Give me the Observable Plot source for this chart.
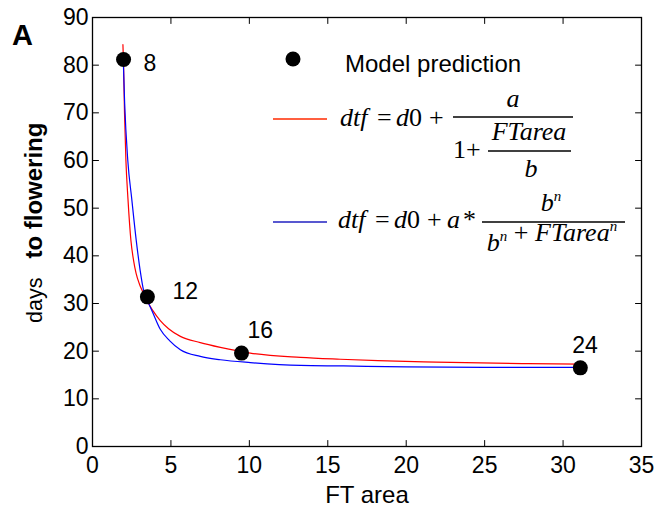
<!DOCTYPE html>
<html>
<head>
<meta charset="utf-8">
<script src="https://cdn.jsdelivr.net/npm/d3@7"></script>
<script src="https://cdn.jsdelivr.net/npm/@observablehq/plot@0.6"></script>
<style>
  html, body { margin: 0; padding: 0; background: #fff; }
  #chart { width: 662px; height: 510px; }
</style>
</head>
<body>
<div id="chart"></div>
<script>
// ---- data ----
const xTicks = [0, 5, 10, 15, 20, 25, 30, 35];
const yTicks = [0, 10, 20, 30, 40, 50, 60, 70, 80, 90];

const pointFT = [1.98, 3.5, 9.5, 31.1];
const pointDays = [81.2, 31.4, 19.6, 16.5];
const pointLabels = ["8", "12", "16", "24"];

const redFT   = [1.94, 1.98, 2.04, 2.13, 2.26, 2.45, 2.62, 2.78, 3.0, 3.2, 3.5, 3.85, 4.32, 4.85, 5.6, 6.87, 8.15, 10.06, 13.25, 15.8, 18.2, 21.9, 27.4, 31.1];
const redDays = [84.3, 80.0, 70.0, 60.0, 52.0, 43.2, 39.0, 36.3, 34.0, 32.5, 30.4, 28.5, 26.4, 24.7, 23.1, 21.8, 20.8, 19.6, 18.7, 18.3, 18.0, 17.7, 17.4, 17.3];

const blueFT   = [1.96, 2.05, 2.25, 2.5, 2.79, 3.04, 3.26, 3.5, 3.79, 4.32, 4.91, 5.6, 6.87, 8.15, 10.06, 13.25, 16.0, 20.0, 25.0, 31.1];
const blueDays = [81.3, 72.0, 60.0, 52.0, 43.2, 36.9, 32.7, 30.6, 28.5, 24.6, 22.2, 20.3, 18.9, 18.2, 17.6, 17.0, 16.9, 16.7, 16.6, 16.6];

const xLabel = "FT area";
const yLabelNormal = "days";
const yLabelBold = "to flowering";
const panelLabel = "A";
const legendLabel = "Model prediction";

// ---- tables built from the arrays ----
const points = pointFT.map((x, i) => ({x, y: pointDays[i], label: pointLabels[i]}));
const red = redFT.map((x, i) => ({x, y: redDays[i]}));
const blue = blueFT.map((x, i) => ({x, y: blueDays[i]}));

// label offsets (styling, pixels)
const labelOffsets = [[20, 4], [25, -5], [6, -22], [-8, -22]];

const tickShape = {draw(ctx, l) { ctx.moveTo(0, 0); ctx.lineTo(0, -l); }};
const tickLen = 6;

const chart = Plot.plot({
  width: 662,
  height: 510,
  marginLeft: 92,
  marginRight: 21,
  marginTop: 17,
  marginBottom: 64,
  style: {fontFamily: "'Liberation Sans', Arial, sans-serif", fontSize: "23px", color: "black", background: "white", overflow: "visible"},
  x: {domain: [0, 35]},
  y: {domain: [0, 90]},
  marks: [
    Plot.axisX({ticks: xTicks, tickSize: 0, tickPadding: 10, label: null, fontSize: 23, tickFormat: d => String(d)}),
    Plot.axisY({ticks: yTicks, tickSize: 0, tickPadding: 4, label: null, fontSize: 23, tickFormat: d => String(d)}),
    Plot.vector(xTicks, {x: d => d, frameAnchor: "bottom", length: tickLen, rotate: 0, anchor: "start", shape: tickShape, stroke: "black", strokeWidth: 1}),
    Plot.vector(xTicks, {x: d => d, frameAnchor: "top", length: tickLen, rotate: 180, anchor: "start", shape: tickShape, stroke: "black", strokeWidth: 1}),
    Plot.vector(yTicks, {y: d => d, frameAnchor: "left", length: tickLen, rotate: 90, anchor: "start", shape: tickShape, stroke: "black", strokeWidth: 1}),
    Plot.vector(yTicks, {y: d => d, frameAnchor: "right", length: tickLen, rotate: -90, anchor: "start", shape: tickShape, stroke: "black", strokeWidth: 1}),
    Plot.line(red, {x: "x", y: "y", stroke: "#ff0000", strokeWidth: 1.2, curve: "monotone-x"}),
    Plot.line(blue, {x: "x", y: "y", stroke: "#0000ff", strokeWidth: 1.2, curve: "monotone-x"}),
    Plot.dot(points, {x: "x", y: "y", r: 7.5, fill: "black", stroke: "none"}),
    ...points.map((p, i) => Plot.text([p], {
      x: "x", y: "y", text: "label",
      dx: labelOffsets[i][0], dy: labelOffsets[i][1],
      textAnchor: "start", fontSize: 23, fill: "black"
    })),
    Plot.frame({stroke: "black", strokeWidth: 1.3})
  ]
});

document.getElementById("chart").appendChild(chart);

// ---- annotations: axis titles, panel letter, legend ----
const svg = d3.select(chart);
const sans = "'Liberation Sans', Arial, sans-serif";
const serif = "'Liberation Serif', 'Times New Roman', serif";

svg.append("text").attr("x", 367).attr("y", 503)
  .attr("text-anchor", "middle").attr("font-family", sans).attr("font-size", 24)
  .text(xLabel);

const yl = svg.append("text").attr("transform", "translate(42,323) rotate(-90)")
  .attr("text-anchor", "start").attr("font-family", sans);
yl.append("tspan").attr("font-size", 21.5).text(yLabelNormal);
yl.append("tspan").attr("font-size", 24).attr("font-weight", "bold").attr("dx", 19).text(yLabelBold);

svg.append("text").attr("x", 12).attr("y", 45).attr("text-anchor", "start")
  .attr("font-family", sans).attr("font-size", 29).attr("font-weight", "bold").text(panelLabel);

// legend: dot + label
svg.append("circle").attr("cx", 293).attr("cy", 59).attr("r", 7.5).attr("fill", "black");
svg.append("text").attr("x", 345).attr("y", 72).attr("text-anchor", "start")
  .attr("font-family", sans).attr("font-size", 24).text(legendLabel);

// legend lines
svg.append("line").attr("x1", 273).attr("x2", 327).attr("y1", 119).attr("y2", 119)
  .attr("stroke", "#ff2a00").attr("stroke-width", 1.5);
svg.append("line").attr("x1", 273).attr("x2", 327).attr("y1", 222).attr("y2", 222)
  .attr("stroke", "#2020c0").attr("stroke-width", 1.5);

const eqSize = 26;
function eqPiece(x, y, s, italic, anchor = "start") {
  return svg.append("text").attr("x", x).attr("y", y).attr("text-anchor", anchor)
    .attr("font-family", serif).attr("font-size", eqSize)
    .attr("font-style", italic ? "italic" : "normal").text(s);
}
function eqText(x, y, anchor) {
  return svg.append("text").attr("x", x).attr("y", y).attr("text-anchor", anchor)
    .attr("font-family", serif).attr("font-size", eqSize);
}
function it(sel, s) { sel.append("tspan").attr("font-style", "italic").text(s); return sel; }
function up(sel, s) { sel.append("tspan").text(s); return sel; }
function sup(sel, s) { sel.append("tspan").attr("font-style", "italic").attr("font-size", 15).attr("dy", -10).text(s); sel.append("tspan").attr("dy", 10).text(""); return sel; }
function hline(x1, x2, y) {
  svg.append("line").attr("x1", x1).attr("x2", x2).attr("y1", y).attr("y2", y)
    .attr("stroke", "black").attr("stroke-width", 1.4);
}

// equation 1
eqPiece(340, 126, "dtf", true);
eqPiece(377, 126, "=", false);
eqPiece(396, 126, "d", true);
eqPiece(409, 126, "0", false);
eqPiece(429, 126, "+", false);
eqPiece(513, 107, "a", true, "middle");
hline(453, 573, 117);
eqPiece(453, 158, "1", false);
eqPiece(466, 158, "+", false);
eqPiece(529, 140, "FTarea", true, "middle");
hline(488, 571, 151);
eqPiece(531, 177, "b", true, "middle");

// equation 2
eqPiece(338, 228, "dtf", true);
eqPiece(375, 228, "=", false);
eqPiece(394, 228, "d", true);
eqPiece(407, 228, "0", false);
eqPiece(427, 228, "+", false);
eqPiece(447, 228, "a", true);
eqPiece(463, 228, "*", false);
let t = eqText(551, 211, "middle"); it(t, "b"); sup(t, "n");
hline(482, 625, 222);
t = eqText(552, 251, "middle"); it(t, "b"); sup(t, "n"); up(t, " + "); it(t, "FTarea"); sup(t, "n");
</script>
</body>
</html>
